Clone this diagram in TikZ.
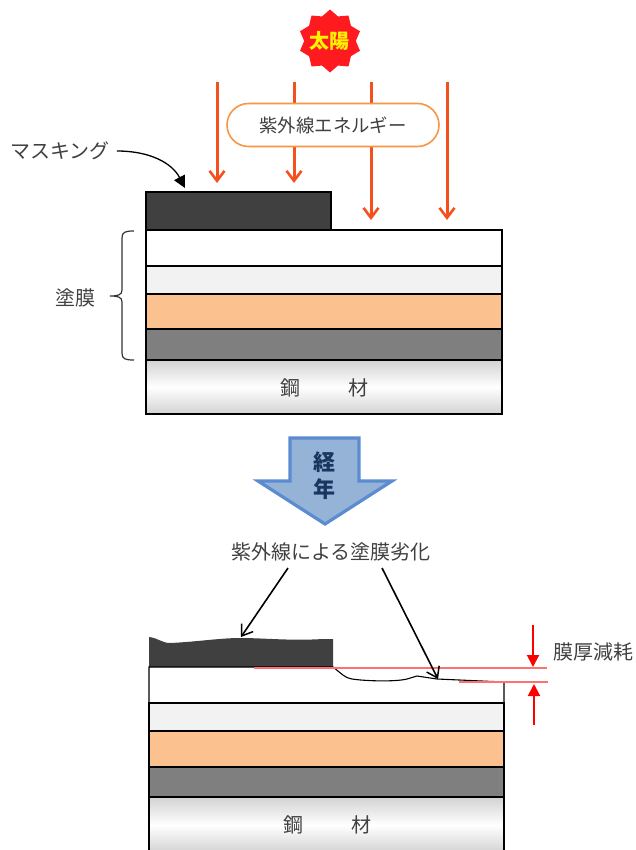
\documentclass[tikz,border=0pt]{standalone}
\usepackage{fontspec}
\setmainfont{Noto Sans CJK JP}
\usetikzlibrary{arrows.meta,shapes.geometric,shapes.misc}

\definecolor{sunred}{HTML}{FF1A1F}
\definecolor{rayred}{HTML}{F4501E}
\definecolor{pillorange}{HTML}{F79646}
\definecolor{maskgray}{HTML}{404040}
\definecolor{coatlight}{HTML}{F2F2F2}
\definecolor{coatorange}{HTML}{FBC28F}
\definecolor{coatgray}{HTML}{7F7F7F}
\definecolor{thinred}{HTML}{FF7070}
\definecolor{labeltext}{HTML}{404040}
\definecolor{agefill}{HTML}{95B3D7}
\definecolor{ageline}{HTML}{5B8BD0}
\definecolor{agetext}{HTML}{17375E}
\definecolor{steeledge}{HTML}{D2D2D2}

\tikzset{
    layer/.style={draw=black, line width=1.1pt, inner sep=0pt, outer sep=0pt, anchor=north west},
    steel/.style={layer, top color=steeledge, bottom color=steeledge, middle color=white},
    label/.style={inner sep=0pt, text=labeltext, font=\fontsize{20}{22}\selectfont},
    ray/.style={-{Straight Barb[length=10pt,width=15pt,line width=2.6pt]}, line width=3pt, rayred},
    pointer/.style={-{Straight Barb[length=10pt,width=14pt,line width=1.5pt]}, line width=1.6pt, black},
    gauge/.style={-{Triangle[length=12pt,width=12pt]}, line width=2pt, red},
    level/.style={line width=1.9pt, thinred}
}

\begin{document}
\begin{tikzpicture}[x=1pt,y=-1pt]
    \useasboundingbox (0,0) rectangle (635,850);

    % sun and rays
    \node[star, star points=10, star point ratio=1.22, minimum size=63pt, inner sep=0pt, fill=sunred] (sun) at (330,41) {};
    \node[inner sep=0pt, text=yellow, font=\fontsize{20}{22}\selectfont\bfseries] (sunlabel) at (329,41) {太陽};

    \coordinate (rayA) at (217,82);
    \coordinate (rayB) at (294,82);
    \coordinate (rayC) at (371,82);
    \coordinate (rayD) at (447,82);
    \coordinate (rayAend) at (217,183);
    \coordinate (rayBend) at (294,183);
    \coordinate (rayCend) at (371,220);
    \coordinate (rayDend) at (447,220);
    \draw[ray] (rayA) -- (rayAend);
    \draw[ray] (rayB) -- (rayBend);
    \draw[ray] (rayC) -- (rayCend);
    \draw[ray] (rayD) -- (rayDend);
    \node[rounded rectangle, draw=pillorange, line width=1.6pt, fill=white, minimum width=212pt, minimum height=43pt, label, font=\fontsize{18.4}{20}\selectfont] (energy) at (333,125) {紫外線エネルギー};

    % upper plate
    \node[layer, fill=maskgray, minimum width=185pt, minimum height=38pt] (maskA) at (146,192) {};
    \node[layer, fill=white, minimum width=356pt, minimum height=36pt] (whiteA) at (146,230) {};
    \node[layer, fill=coatlight, minimum width=356pt, minimum height=28pt] (lightA) at (146,266) {};
    \node[layer, fill=coatorange, minimum width=356pt, minimum height=35pt] (orangeA) at (146,294) {};
    \node[layer, fill=coatgray, minimum width=356pt, minimum height=31pt] (grayA) at (146,329) {};
    \node[steel, minimum width=356pt, minimum height=54pt] (steelA) at (146,360) {};
    \node[label] (steelAa) at (290,388) {鋼};
    \node[label] (steelAb) at (358,388) {材};

    % labels on the left
    \node[label] (masklabel) at (60,151) {マスキング};
    \coordinate (maskarrow) at (185,188);
    \draw[-{Triangle[length=12pt,width=12pt]}, line width=1.3pt, black] (masklabel.east) ++(7,0) .. controls (150,151) and (172,163) .. (maskarrow);
    \node[label] (coatlabel) at (75,298) {塗膜};
    \draw[line width=1.2pt, black!80] (134,231) .. controls (125,231) and (122,232) .. (122,238) -- (122,290) .. controls (122,295) and (118,296) .. (110,296) .. controls (118,296) and (122,297) .. (122,302) -- (122,353) .. controls (122,359) and (125,360) .. (134,360);

    % ageing arrow
    \draw[line width=3.2pt, draw=ageline, fill=agefill, line join=miter] (290,438) -- (359,438) -- (359,481) -- (392,481) -- (325,524) -- (258,481) -- (290,481) -- cycle;
    \node[inner sep=0pt, text=agetext, align=center, font=\fontsize{22}{27}\selectfont\bfseries] (aging) at (324,476) {経\\年};

    % lower plate
    \node[label] (damage) at (331,552) {紫外線による塗膜劣化};
    \draw[fill=maskgray, draw=none] (149,637) .. controls (158,638) and (162,643) .. (170,643) .. controls (195,642) and (220,638) .. (240,638) .. controls (265,638) and (290,641) .. (323,639) -- (333,639) -- (333,667) -- (149,667) -- cycle;
    \node[layer, fill=coatlight, minimum width=355pt, minimum height=28pt] (lightB) at (149,703) {};
    \node[layer, fill=coatorange, minimum width=355pt, minimum height=36pt] (orangeB) at (149,731) {};
    \node[layer, fill=coatgray, minimum width=355pt, minimum height=30pt] (grayB) at (149,767) {};
    \node[steel, minimum width=355pt, minimum height=56pt] (steelB) at (149,797) {};
    \node[label] (steelBa) at (293,825) {鋼};
    \node[label] (steelBb) at (361,825) {材};
    \draw[line width=1.1pt, black] (149,703) -- (149,667) -- (333,667) .. controls (342,674) and (345,678) .. (352,679) .. controls (365,681) and (395,682) .. (407,679) -- (417,676) -- (437,679) -- (504,682) -- (504,703);

    % thickness loss
    \draw[level] (254,668) -- (547,668);
    \draw[level] (459,682) -- (548,682);
    \coordinate (gaugeAstart) at (533,625);
    \coordinate (gaugeAend) at (533,667);
    \coordinate (gaugeBstart) at (534,725);
    \coordinate (gaugeBend) at (534,684);
    \draw[gauge] (gaugeAstart) -- (gaugeAend);
    \draw[gauge] (gaugeBstart) -- (gaugeBend);
    \node[label] (loss) at (593,652) {膜厚減耗};

    \coordinate (damageA) at (288,568);
    \coordinate (damageB) at (382,568);
    \coordinate (damageAend) at (241,637);
    \coordinate (damageBend) at (438,679);
    \draw[pointer] (damageA) -- (damageAend);
    \draw[pointer] (damageB) -- (damageBend);
\end{tikzpicture}
\end{document}
